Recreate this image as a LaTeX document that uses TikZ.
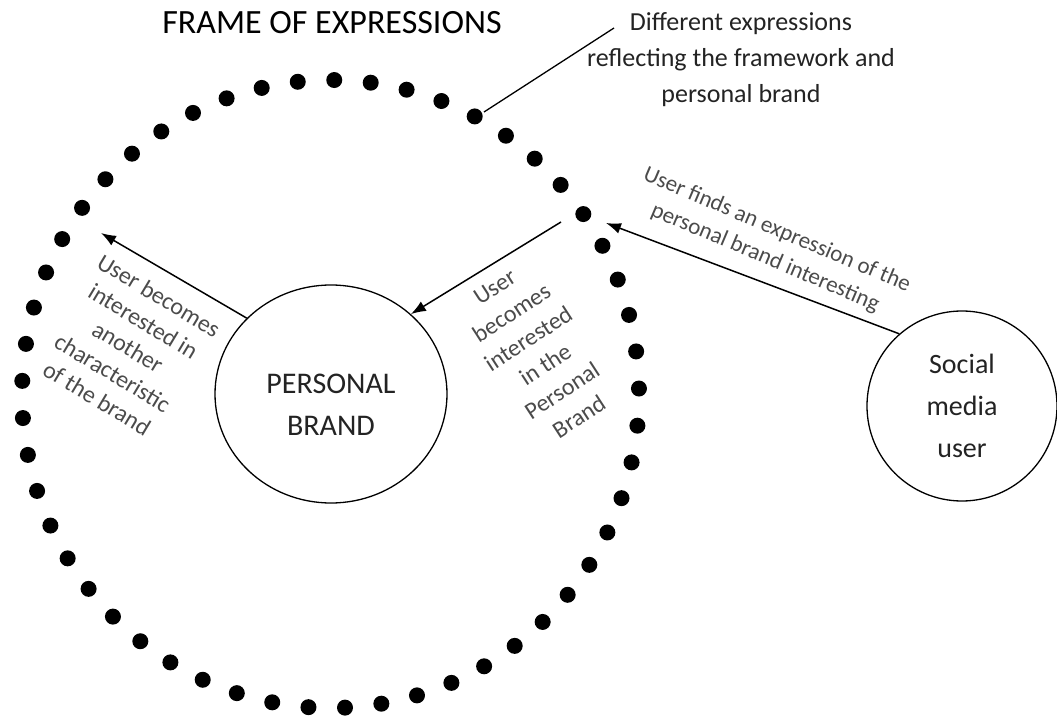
\documentclass[tikz,border=0pt]{standalone}
\usepackage{fontspec}
\setmainfont{Carlito}
\usepackage{xcolor}
\usetikzlibrary{positioning,shapes.geometric,arrows.meta}
\definecolor{notegray}{RGB}{75,75,75}
\definecolor{textdark}{RGB}{35,35,35}

\begin{document}
\begin{tikzpicture}[
  x=0.5pt, y=-0.5pt,
  dot/.style={circle, fill=black, inner sep=0pt, minimum size=8pt},
  bubble/.style={draw, line width=0.65pt, align=center, text=textdark, inner sep=2pt},
  note/.style={text=notegray, align=center, inner sep=0pt},
  link/.style={-{Latex[length=7.5pt,width=5.5pt]}, line width=0.75pt}
]
\useasboundingbox (0,0) rectangle (1057,717);

\node[font=\fontsize{17}{20}\selectfont] (title) at (332,23) {FRAME OF EXPRESSIONS};

\foreach \i in {0,...,52}
  \node[dot] (d\i) at ({330.5+308.5*cos(1+\i*6.79245)}, {394-314*sin(1+\i*6.79245)}) {};

\node[bubble, ellipse, minimum width=116pt, minimum height=109pt] (brand) at (331,394) {};
\node[text=textdark, align=center, font=\fontsize{15}{21}\selectfont] (brandtext) at (331,405) {PERSONAL\\BRAND};
\node[bubble, circle, minimum size=95pt,
      font=\fontsize{14}{21}\selectfont] (user) at (962,406) {Social\\media\\user};

\node[text=textdark, align=center, font=\fontsize{13}{18}\selectfont] (diffexp) at (741,60)
  {Different expressions\\reflecting the framework and\\personal brand};
\coordinate (callout) at (484,112);
\coordinate (calltip) at (614,28);
\draw[line width=0.65pt] (callout) -- (calltip);

\coordinate (expr) at (606,223);
\coordinate (inward) at (561,222);
\coordinate (other) at (101,233);
\draw[link] (user.131) -- (expr);
\draw[link] (inward) -- (brand.45);
\draw[link] (brand.138) -- (other);

\node[note, rotate=-23, font=\fontsize{11.5}{15}\selectfont] (findnote) at (771,244)
  {User finds an expression of the\\personal brand interesting};
\node[note, rotate=33, font=\fontsize{12}{15.5}\selectfont] (innote) at (537,352)
  {User\\becomes\\interested\\in the\\Personal\\Brand};
\node[note, rotate=-31, font=\fontsize{12}{15}\selectfont] (othernote) at (128,347)
  {User becomes\\interested in\\another\\characteristic\\of the brand};
\end{tikzpicture}
\end{document}
